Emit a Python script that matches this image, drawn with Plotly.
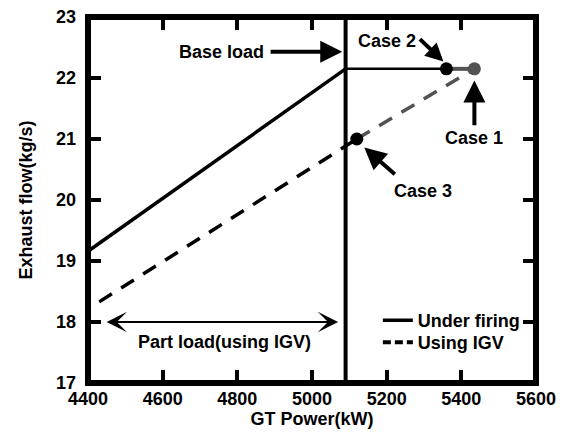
import plotly.graph_objects as go

# ---- data ----
base_load_kw = 5090
under_firing_x = [4400, 5090]
under_firing_y = [19.16, 22.15]
base_line_x = [5090, 5360]
base_line_y = [22.15, 22.15]
case12_x = [5360, 5435]
case12_y = [22.15, 22.15]
igv_x = [4430, 5120]
igv_y = [18.33, 21.0]
igv_gray_x = [5120, 5435]
igv_gray_y = [21.0, 22.15]
case1 = (5435, 22.15)
case2 = (5360, 22.15)
case3 = (5120, 21.0)
x_ticks = [4400, 4600, 4800, 5000, 5200, 5400, 5600]
y_ticks = [17, 18, 19, 20, 21, 22, 23]
part_load_range = (4446, 5070, 18.0)

BLACK = "#000000"
GRAY = "#525252"
FONT = "Liberation Sans, Arial, sans-serif"

fig = go.Figure()

# vertical base-load line
fig.add_trace(go.Scatter(x=[base_load_kw, base_load_kw], y=[y_ticks[0], y_ticks[-1]],
                         mode="lines", line=dict(color=BLACK, width=4), showlegend=False,
                         hoverinfo="skip"))
# under firing
fig.add_trace(go.Scatter(x=under_firing_x, y=under_firing_y, mode="lines",
                         line=dict(color=BLACK, width=3.5), showlegend=False))
fig.add_trace(go.Scatter(x=base_line_x, y=base_line_y, mode="lines",
                         line=dict(color=BLACK, width=2.5), showlegend=False))
fig.add_trace(go.Scatter(x=case12_x, y=case12_y, mode="lines",
                         line=dict(color=GRAY, width=4), showlegend=False))
# using IGV
fig.add_trace(go.Scatter(x=igv_x, y=igv_y, mode="lines",
                         line=dict(color=BLACK, width=3.5, dash="15px,11px"), showlegend=False))
fig.add_trace(go.Scatter(x=igv_gray_x, y=igv_gray_y, mode="lines",
                         line=dict(color=GRAY, width=3.5, dash="15px,11px"), showlegend=False))
# case points
fig.add_trace(go.Scatter(x=[case2[0], case3[0]], y=[case2[1], case3[1]], mode="markers",
                         marker=dict(color=BLACK, size=13), showlegend=False))
fig.add_trace(go.Scatter(x=[case1[0]], y=[case1[1]], mode="markers",
                         marker=dict(color=GRAY, size=13), showlegend=False))

# legend entries (each in its own legend box for tight spacing)
fig.add_trace(go.Scatter(x=[None], y=[None], mode="lines", name="Under firing",
                         line=dict(color=BLACK, width=3.5), legend="legend"))
fig.add_trace(go.Scatter(x=[None], y=[None], mode="lines", name="Using IGV",
                         line=dict(color=BLACK, width=4, dash="8px,4px"), legend="legend2"))

tfont = dict(family=FONT, size=18, color=BLACK, weight="bold")

def arrow(tip, tail, head=2, size=1.1, width=4, both=False):
    d = dict(x=tip[0], y=tip[1], ax=tail[0], ay=tail[1], xref="x", yref="y",
             axref="x", ayref="y", text="", showarrow=True, arrowhead=head,
             arrowsize=size, arrowwidth=width, arrowcolor=BLACK, standoff=0)
    if both:
        d.update(arrowside="end+start", startarrowhead=head, startarrowsize=size,
                 startstandoff=0)
    return d

annotations = [
    dict(x=4758, y=22.43, text="Base load", showarrow=False, font=tfont),
    dict(x=5202, y=22.61, text="Case 2", showarrow=False, font=tfont),
    dict(x=5434, y=21.02, text="Case 1", showarrow=False, font=tfont),
    dict(x=5297, y=20.14, text="Case 3", showarrow=False, font=tfont),
    dict(x=4765, y=17.68, text="Part load(using IGV)", showarrow=False, font=tfont),
    arrow((5081, 22.43), (4885, 22.43)),
    arrow((5352, 22.27), (5285, 22.66), size=0.9),
    arrow((5435, 21.96), (5435, 21.2)),
    arrow((5140, 20.86), (5226, 20.4)),
    arrow((part_load_range[1], part_load_range[2]), (part_load_range[0], part_load_range[2]),
          head=3, size=1.7, width=2, both=True),
]

axis_common = dict(showline=False, mirror="allticks",
                   ticks="inside", ticklen=13, tickwidth=4, tickcolor=BLACK,
                   showgrid=False, zeroline=False, automargin=False, layer="above traces",
                   tickfont=dict(family=FONT, size=18, color=BLACK, weight="bold"))

legend_common = dict(xanchor="left", yanchor="top", bgcolor="rgba(0,0,0,0)",
                     font=dict(family=FONT, size=18, color=BLACK, weight="bold"),
                     borderwidth=0)

fig.update_layout(
    width=565, height=436,
    margin=dict(l=88, r=29, t=17, b=53),
    paper_bgcolor="white", plot_bgcolor="white",
    font=dict(family=FONT, size=18, color=BLACK, weight="bold"),
    xaxis=dict(range=[4400, 5600], tickvals=x_ticks, ticklabelstandoff=3,
               title=dict(text="GT Power(kW)", font=dict(size=18, weight="bold"), standoff=3),
               **axis_common),
    yaxis=dict(range=[17, 23], tickvals=y_ticks, ticklabelstandoff=11,
               title=dict(text="Exhaust flow(kg/s)", font=dict(size=18, weight="bold"), standoff=18),
               **axis_common),
    legend=dict(x=0.647, y=0.2213, **legend_common),
    legend2=dict(x=0.647, y=0.161, **legend_common),
    annotations=annotations,
    shapes=[dict(type="rect", xref="paper", yref="paper", x0=0, x1=1, y0=0, y1=1,
                 line=dict(color=BLACK, width=6), fillcolor="rgba(0,0,0,0)", layer="above")],
    showlegend=True,
)

fig.write_html("out.html")
